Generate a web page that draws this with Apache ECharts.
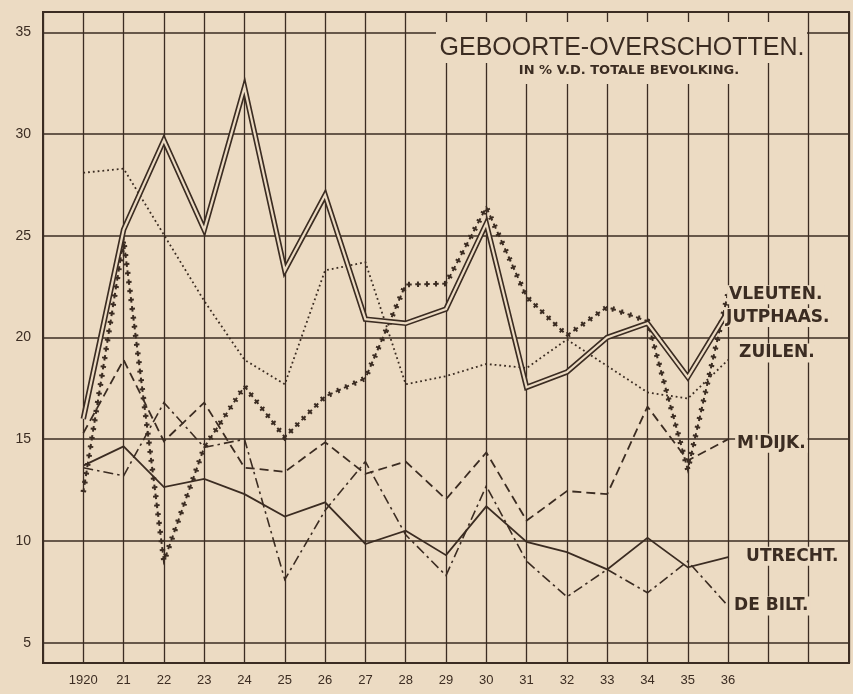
<!DOCTYPE html>
<html><head><meta charset="utf-8">
<script src="https://cdn.jsdelivr.net/npm/echarts@6/dist/echarts.min.js"></script>
<style>html,body{margin:0;padding:0;background:#ecdbc3;}#c{width:853px;height:694px;}</style>
</head><body><div id="c"></div>
<script>
// ---- data ----
const categories = ['1919','1920','1921','1922','1923','1924','1925','1926','1927','1928','1929','1930','1931','1932','1933','1934','1935','1936','1937','1938','1939'];
const tickLabels = ['','1920','21','22','23','24','25','26','27','28','29','30','31','32','33','34','35','36','','',''];
const dataYears = ['1920','1921','1922','1923','1924','1925','1926','1927','1928','1929','1930','1931','1932','1933','1934','1935','1936'];
const yGridValues = [5,10,15,20,25,30,35];

const vleuten  = [12.4, 24.8, 9.0, 14.6, 17.6, 15.1, 17.1, 18.0, 22.6, 22.65, 26.4, 22.0, 20.1, 21.5, 20.8, 13.5, 22.2];
const jutphaas = [16.0, 25.3, 29.7, 25.3, 32.3, 23.3, 27.0, 20.9, 20.7, 21.4, 25.6, 17.55, 18.3, 20.0, 20.7, 18.05, 21.3];
const zuilen   = [28.1, 28.3, 25.05, 21.8, 18.9, 17.7, 23.3, 23.7, 17.7, 18.1, 18.7, 18.5, 19.9, 18.6, 17.3, 17.0, 18.9];
const mdijk    = [15.3, 18.9, 14.9, 16.8, 13.6, 13.4, 14.85, 13.3, 13.9, 12.05, 14.35, 11.0, 12.45, 12.3, 16.6, 13.95, 15.0];
const utrecht  = [13.7, 14.65, 12.65, 13.05, 12.3, 11.2, 11.9, 9.85, 10.5, 9.3, 11.7, 9.95, 9.45, 8.6, 10.15, 8.7, 9.2];
const debilt   = [13.6, 13.2, 16.8, 14.6, 15.0, 8.1, 11.5, 13.9, 10.3, 8.3, 12.7, 9.0, 7.25, 8.6, 7.45, 9.0, 6.8];

const seriesNames = ['VLEUTEN.','JUTPHAAS.','ZUILEN.',"M'DIJK.",'UTRECHT.','DE BILT.'];
const titleText = 'GEBOORTE-OVERSCHOTTEN.';
const subtitleText = 'IN % V.D. TOTALE BEVOLKING.';

// ---- style ----
const ink = '#3b2c22';
const paper = '#ecdbc3';

const pairs = vals => vals.map((v, i) => [dataYears[i], v]);
function line(name, vals, z, ls) {
  return { type: 'line', name: name, data: pairs(vals), symbol: 'none', silent: true, z: z,
    lineStyle: Object.assign({ color: ink, width: 1.8, type: 'solid', cap: 'butt', join: 'miter' }, ls) };
}

const chart = echarts.init(document.getElementById('c'), null, { renderer: 'canvas' });
const utrechtSeries = line(seriesNames[4], utrecht, 2, { width: 1.8 });
utrechtSeries.markLine = {
  silent: true, symbol: ['none', 'none'], label: { show: false }, animation: false,
  lineStyle: { color: ink, width: 1.6, type: 'solid' },
  data: yGridValues.map(v => ({ yAxis: v }))
};

const option = {
  backgroundColor: paper,
  animation: false,
  grid: { left: 43, right: 4, top: 12, bottom: 31, show: true, borderColor: ink, borderWidth: 2, backgroundColor: 'transparent' },
  xAxis: {
    type: 'category', data: categories, boundaryGap: false,
    axisLine: { show: false }, axisTick: { show: false },
    axisLabel: { interval: 0, margin: 11, color: ink, fontSize: 13, fontFamily: 'Liberation Sans',
      formatter: (v, i) => tickLabels[i] },
    splitLine: { show: true, interval: 0, lineStyle: { color: ink, width: 1.3 } }
  },
  yAxis: {
    type: 'value', min: 4, max: 36, interval: 1,
    axisLine: { show: false }, axisTick: { show: false }, splitLine: { show: false },
    axisLabel: { margin: 12, color: ink, fontSize: 14, fontFamily: 'Liberation Sans',
      formatter: v => (v % 5 === 0 ? String(v) : '') }
  },
  series: [
    utrechtSeries,
    line(seriesNames[5], debilt, 3, { width: 1.6, type: [10, 4, 2.5, 4] }),
    line(seriesNames[3], mdijk, 3, { width: 1.8, type: [9, 5] }),
    line(seriesNames[2], zuilen, 3, { width: 1.8, type: [1.8, 3] }),
    line(seriesNames[0], vleuten, 4, { width: 5.5, type: [2, 7] }),
    line(seriesNames[0] + ' ', vleuten, 4, { width: 2, type: [5.5, 3.5], dashOffset: 1.75 }),
    line(seriesNames[1], jutphaas, 5, { width: 5.5 }),
    line(seriesNames[1] + ' ', jutphaas, 5, { width: 2.2, color: paper })
  ]
};
chart.setOption(option);

// ---- labels placed relative to the last data point of each line ----
const lastYear = dataYears[dataYears.length - 1];
const ends = [
  [vleuten, -1, 2], [jutphaas, -4, 6.5], [zuilen, 9, -7],
  [mdijk, 7, 4], [utrecht, 16, -1], [debilt, 4, 0]
];
const labelGraphics = ends.map((e, i) => {
  const p = chart.convertToPixel({ xAxisIndex: 0, yAxisIndex: 0 }, [lastYear, e[0][e[0].length - 1]]);
  return { type: 'text', z: 50, x: p[0] + e[1], y: p[1] + e[2],
    style: { text: seriesNames[i], fill: ink, font: 'bold 17px "DejaVu Sans"', textVerticalAlign: 'middle',
      backgroundColor: paper, padding: [1, 2] } };
});

chart.setOption({
  graphic: [
    { type: 'rect', z: 40, shape: { x: 436, y: 22, width: 371, height: 41 }, style: { fill: paper } },
    { type: 'rect', z: 40, shape: { x: 495, y: 60, width: 266, height: 24 }, style: { fill: paper } },
    { type: 'text', z: 45, x: 622, y: 48, style: { text: titleText, fill: ink, font: '25px "Liberation Sans"', textAlign: 'center', textVerticalAlign: 'middle' } },
    { type: 'text', z: 45, x: 629, y: 71, style: { text: subtitleText, fill: ink, font: 'bold 13px "DejaVu Sans"', textAlign: 'center', textVerticalAlign: 'middle' } }
  ].concat(labelGraphics)
});
</script>
</body></html>
